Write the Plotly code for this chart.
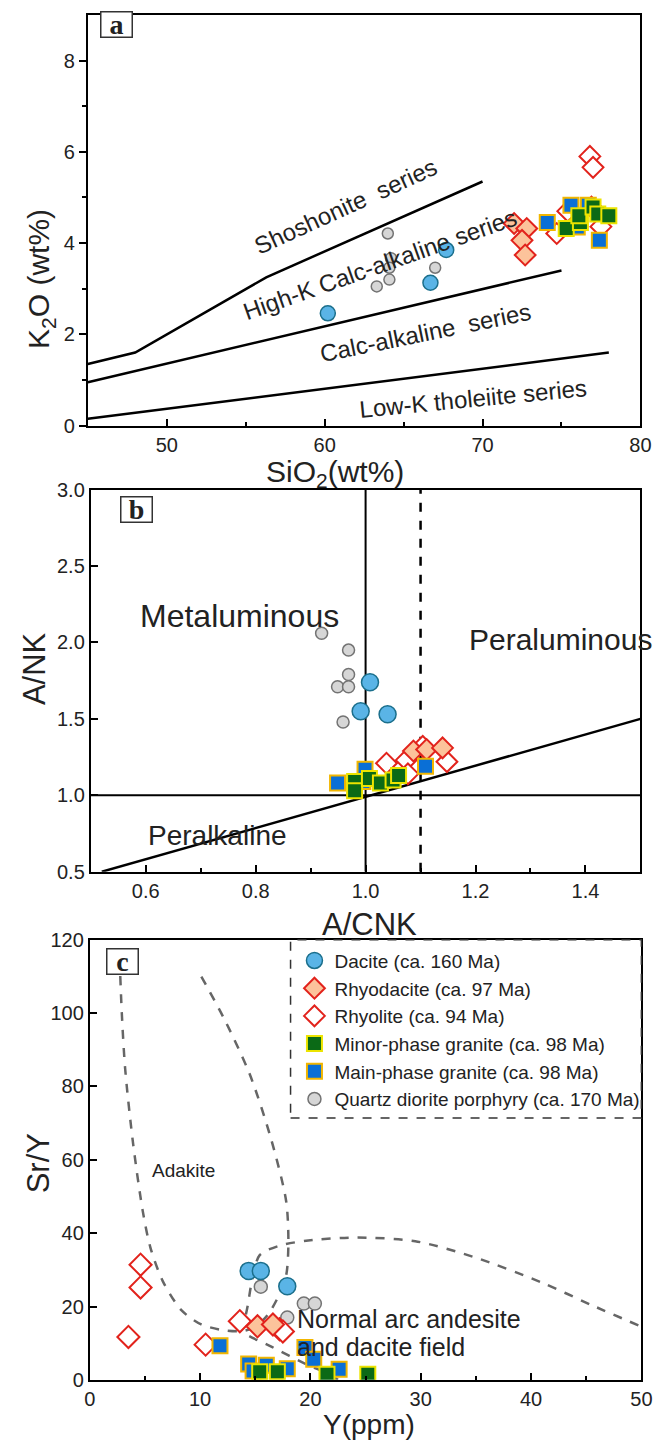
import plotly.graph_objects as go

W, H = 667, 1447
FONT = "Liberation Sans, Arial, sans-serif"
SERIF = "Liberation Serif, Times New Roman, serif"

def px(x):
    return x / W

def py(y):
    return 1 - y / H

# ---------------- Panel a: K2O vs SiO2 ----------------
a_dacite_x = [60.2, 66.7, 67.7]
a_dacite_y = [2.46, 3.13, 3.85]
a_qdp_x = [64.0, 64.2, 64.1, 64.1, 63.3, 67.0]
a_qdp_y = [4.21, 3.67, 3.46, 3.20, 3.05, 3.46]
a_rhyodacite_x = [72.0, 72.8, 72.5, 72.7]
a_rhyodacite_y = [4.43, 4.32, 4.06, 3.74]
a_rhyolite_x = [76.8, 77.0, 74.7, 75.4, 77.5, 76.9]
a_rhyolite_y = [5.90, 5.66, 4.21, 4.70, 4.36, 4.79]
a_main_x = [75.6, 74.1, 76.7, 77.4, 76.0]
a_main_y = [4.83, 4.45, 4.83, 4.06, 4.35]
a_minor_x = [75.3, 76.2, 76.1, 77.0, 77.3, 78.0]
a_minor_y = [4.32, 4.45, 4.60, 4.79, 4.64, 4.60]

a_sho_x = [45, 48, 56.3, 70]
a_sho_y = [1.35, 1.6, 3.25, 5.35]
a_hk_x = [45, 75]
a_hk_y = [0.95, 3.4]
a_ca_x = [45, 78]
a_ca_y = [0.15, 1.6]

# ---------------- Panel b: A/NK vs A/CNK ----------------
b_qdp_x = [0.920, 0.969, 0.969, 0.949, 0.969, 0.959]
b_qdp_y = [2.06, 1.95, 1.79, 1.71, 1.71, 1.48]
b_dacite_x = [1.008, 0.991, 1.040]
b_dacite_y = [1.74, 1.55, 1.53]
b_rhyodacite_x = [1.087, 1.111, 1.140]
b_rhyodacite_y = [1.29, 1.30, 1.31]
b_rhyolite_x = [1.038, 1.074, 1.104, 1.148, 1.077]
b_rhyolite_y = [1.21, 1.23, 1.32, 1.22, 1.14]
b_main_x = [0.949, 0.999, 1.109, 0.995]
b_main_y = [1.08, 1.17, 1.19, 1.09]
b_minor_x = [0.980, 0.980, 1.007, 1.027, 1.050, 1.060]
b_minor_y = [1.09, 1.03, 1.11, 1.08, 1.10, 1.13]

b_diag_x = [0.52, 1.5]
b_diag_y = [0.5, 1.5]

# ---------------- Panel c: Sr/Y vs Y ----------------
c_dacite_x = [14.4, 15.5, 17.9]
c_dacite_y = [29.7, 29.7, 25.5]
c_qdp_x = [15.5, 17.9, 19.4, 20.4]
c_qdp_y = [25.4, 17.0, 20.8, 20.8]
c_rhyodacite_x = [15.2, 16.6]
c_rhyodacite_y = [14.6, 15.1]
c_rhyolite_x = [4.6, 4.6, 3.5, 10.5, 13.6, 17.2, 17.5]
c_rhyolite_y = [31.4, 25.2, 11.7, 9.6, 16.0, 13.8, 13.2]
c_main_x = [11.8, 14.4, 14.8, 16.0, 17.9, 19.5, 20.3, 22.6]
c_main_y = [9.3, 4.3, 2.4, 4.0, 3.0, 8.8, 5.6, 2.9]
c_minor_x = [15.4, 17.0, 21.5, 25.2]
c_minor_y = [2.2, 2.2, 1.5, 1.5]

c_adakite_x = [2.7, 2.9, 3.2, 3.9, 4.8, 5.5, 6.6, 8.3, 10.1, 12.4, 13.8, 14.9, 16.1, 17.1, 17.8, 18.0, 17.8, 16.4, 14.5, 12.3, 10.1]
c_adakite_y = [115, 100, 85, 65, 46, 36, 27, 19, 15.1, 13.4, 13.3, 14.3, 17.6, 22.8, 28.5, 37.2, 48.7, 66, 83.3, 97.7, 110]
c_arc_x = [22.5, 21.3, 19.8, 16.5, 13.7, 14.0, 14.3, 14.7, 15.4, 17.1, 19.8, 24.2, 29.5, 34.8, 41.0, 45.4, 50.0]
c_arc_y = [0.0, 2.1, 4.0, 9.0, 13.6, 16.0, 20.0, 27.0, 34.0, 36.5, 38.0, 38.8, 37.8, 33.5, 26.5, 20.5, 14.5]

# ---------------- Layout (pixels) ----------------
A_L, A_R, A_T, A_B = 84, 651, 4, 421
B_L, B_R, B_T, B_B = 87, 651, 486, 874
C_L, C_R, C_T, C_B = 86, 652, 943, 1390

# ---------------- Styles ----------------
STY = {
    "dacite": dict(name="Dacite (ca. 160 Ma)", symbol="circle", color="#5ab4e6", line="#1b6f8c", lw=1.5, rank=1),
    "rhyodacite": dict(name="Rhyodacite (ca. 97 Ma)", symbol="diamond", color="#fcc39b", line="#e2231c", lw=2, rank=2),
    "rhyolite": dict(name="Rhyolite (ca. 94 Ma)", symbol="diamond", color="white", line="#e2231c", lw=2, rank=3),
    "minor": dict(name="Minor-phase granite (ca. 98 Ma)", symbol="square", color="#0b6a16", line="#ece400", lw=2, rank=4),
    "main": dict(name="Main-phase granite (ca. 98 Ma)", symbol="square", color="#0a6fd6", line="#f2b600", lw=2, rank=5),
    "qdp": dict(name="Quartz diorite porphyry (ca. 170 Ma)", symbol="circle", color="#d6d6d6", line="#737373", lw=1.5, rank=6),
}
SIZES = {
    "a": dict(dacite=15, qdp=11, rhyodacite=16, rhyolite=16, main=15, minor=15),
    "b": dict(dacite=17, qdp=12, rhyodacite=16, rhyolite=16, main=15, minor=15),
    "c": dict(dacite=17, qdp=13, rhyodacite=17, rhyolite=17, main=15, minor=15),
}
PANEL_DATA = {
    "a": dict(qdp=(a_qdp_x, a_qdp_y), dacite=(a_dacite_x, a_dacite_y), rhyolite=(a_rhyolite_x, a_rhyolite_y),
              rhyodacite=(a_rhyodacite_x, a_rhyodacite_y), main=(a_main_x, a_main_y), minor=(a_minor_x, a_minor_y)),
    "b": dict(qdp=(b_qdp_x, b_qdp_y), dacite=(b_dacite_x, b_dacite_y), rhyolite=(b_rhyolite_x, b_rhyolite_y),
              rhyodacite=(b_rhyodacite_x, b_rhyodacite_y), main=(b_main_x, b_main_y), minor=(b_minor_x, b_minor_y)),
    "c": dict(qdp=(c_qdp_x, c_qdp_y), dacite=(c_dacite_x, c_dacite_y), rhyolite=(c_rhyolite_x, c_rhyolite_y),
              rhyodacite=(c_rhyodacite_x, c_rhyodacite_y), main=(c_main_x, c_main_y), minor=(c_minor_x, c_minor_y)),
}
AXES = {"a": ("x", "y"), "b": ("x2", "y2"), "c": ("x3", "y3")}

fig = go.Figure()

def add_line(x, y, xa, ya, **ls):
    fig.add_trace(go.Scatter(x=x, y=y, mode="lines", line=ls, xaxis=xa, yaxis=ya,
                             showlegend=False, hoverinfo="skip"))

add_line(a_sho_x, a_sho_y, "x", "y", color="black", width=2.5)
add_line(a_hk_x, a_hk_y, "x", "y", color="black", width=2.5)
add_line(a_ca_x, a_ca_y, "x", "y", color="black", width=2.5)
add_line(b_diag_x, b_diag_y, "x2", "y2", color="black", width=2.5)
add_line([0.5, 1.5], [1.0, 1.0], "x2", "y2", color="black", width=2)
add_line([1.0, 1.0], [0.5, 3.0], "x2", "y2", color="black", width=2)
add_line([1.1, 1.1], [0.5, 3.0], "x2", "y2", color="black", width=2.5, dash="dash")
add_line(c_adakite_x, c_adakite_y, "x3", "y3", color="#666666", width=2.5, dash="dash", shape="spline", smoothing=0.8)
add_line(c_arc_x, c_arc_y, "x3", "y3", color="#666666", width=2.5, dash="dash", shape="spline", smoothing=0.8)

order = ["qdp", "dacite", "rhyolite", "rhyodacite", "main", "minor"]
for panel in ["a", "b", "c"]:
    xa, ya = AXES[panel]
    for key in order:
        s = STY[key]
        xs, ys = PANEL_DATA[panel][key]
        fig.add_trace(go.Scatter(
            x=xs, y=ys, mode="markers", name=s["name"],
            marker=dict(symbol=s["symbol"], size=SIZES[panel][key], color=s["color"],
                        line=dict(color=s["line"], width=s["lw"])),
            xaxis=xa, yaxis=ya, showlegend=(panel == "c"), legendrank=s["rank"],
        ))

tickfont = dict(family=FONT, size=20, color="#222222")
base = dict(showline=True, linecolor="black", linewidth=2, mirror=True, showgrid=False, zeroline=False,
            tickcolor="black", tickwidth=2, ticklen=7, tickfont=tickfont, fixedrange=True)
minor_in = dict(ticks="inside", ticklen=4, tickwidth=2, tickcolor="black")

fig.update_layout(
    width=W, height=H, margin=dict(l=0, r=0, t=0, b=0),
    paper_bgcolor="white", plot_bgcolor="white",
    font=dict(family=FONT, color="#222222"),
    xaxis=dict(base, domain=[px(A_L), px(A_R)], range=[45, 80], tickvals=[50, 60, 70, 80], ticks="inside",
               minor=dict(minor_in, tickvals=[55, 65, 75]), anchor="y"),
    yaxis=dict(base, domain=[py(A_B), py(A_T)], range=[0, 9], tickvals=[0, 2, 4, 6, 8], ticks="outside",
               minor=dict(tickvals=[1, 3, 5, 7], ticks="outside", ticklen=4, tickwidth=2, tickcolor="black"), anchor="x"),
    xaxis2=dict(base, domain=[px(B_L), px(B_R)], range=[0.5, 1.5], tickvals=[0.6, 0.8, 1.0, 1.2, 1.4], tickformat=".1f",
                ticks="inside", minor=dict(minor_in, tickvals=[0.7, 0.9, 1.1, 1.3]), anchor="y2"),
    yaxis2=dict(base, domain=[py(B_B), py(B_T)], range=[0.5, 3.0], tickvals=[0.5, 1.0, 1.5, 2.0, 2.5, 3.0], tickformat=".1f",
                ticks="inside", anchor="x2"),
    xaxis3=dict(base, domain=[px(C_L), px(C_R)], range=[0, 50], tickvals=[0, 10, 20, 30, 40, 50],
                ticks="inside", minor=dict(minor_in, tickvals=[5, 15, 25, 35, 45]), anchor="y3"),
    yaxis3=dict(base, domain=[py(C_B), py(C_T)], range=[0, 120], tickvals=[0, 20, 40, 60, 80, 100, 120],
                ticks="inside", anchor="x3"),
    legend=dict(x=px(296), y=py(C_T + 2), xanchor="left", yanchor="top", bgcolor="rgba(0,0,0,0)", borderwidth=0,
                font=dict(family=FONT, size=19, color="#222222"), tracegroupgap=0, itemsizing="trace"),
    showlegend=True,
)

# dashed legend frame
fig.add_shape(type="rect", xref="paper", yref="paper", x0=px(292), x1=px(C_R), y0=py(1124), y1=py(C_T),
              line=dict(color="#333333", width=1.5, dash="dash"), fillcolor="rgba(0,0,0,0)")

ann = []
def label(text, x, y, xref, yref, size, angle=0, xanchor="center", family=FONT):
    ann.append(dict(text=text, x=x, y=y, xref=xref, yref=yref, showarrow=False, textangle=angle,
                    xanchor=xanchor, yanchor="middle", font=dict(family=family, size=size, color="#222222")))

# panel a texts
label("Shoshonite  series", 61.3, 4.8, "x", "y", 24, -24.5)
label("High-K Calc-alkaline series", 63.5, 3.52, "x", "y", 24, -19.5)
label("Calc-alkaline  series", 66.4, 2.05, "x", "y", 24, -11.5)
label("Low-K tholeiite series", 69.4, 0.6, "x", "y", 24, -5.5)
# panel b texts
label("Metaluminous", 0.77, 2.17, "x2", "y2", 32)
label("Peraluminous", 1.355, 2.02, "x2", "y2", 30)
label("Peralkaline", 0.73, 0.74, "x2", "y2", 28)
# panel c texts
label("Adakite", 8.5, 57, "x3", "y3", 19)
label("Normal arc andesite", 18.6, 16.5, "x3", "y3", 25, xanchor="left")
label("and dacite field", 18.6, 9.0, "x3", "y3", 25, xanchor="left")

# axis titles
label("K<sub>2</sub>O (wt%)", px(36), py(272), "paper", "paper", 30, -90)
label("SiO<sub>2</sub>(wt%)", px(338), py(470), "paper", "paper", 30)
label("A/NK", px(30), py(668), "paper", "paper", 31, -90)
label("A/CNK", px(373), py(928), "paper", "paper", 31)
label("Sr/Y", px(33), py(1170), "paper", "paper", 31, -90)
label("Y(ppm)", px(372), py(1435), "paper", "paper", 28)

# panel letters
for letter, x0, y0 in [("a", 113, A_T + 10), ("b", 134, B_T + 20), ("c", 120, C_T + 22)]:
    ann.append(dict(text="<b>%s</b>" % letter, x=px(x0), y=py(y0), xref="paper", yref="paper", showarrow=False,
                    xanchor="center", yanchor="middle", width=30, height=24, align="center",
                    font=dict(family=SERIF, size=28, color="#222222"),
                    bordercolor="#333333", borderwidth=1.5, borderpad=0, bgcolor="white"))

fig.update_layout(annotations=ann)
fig.write_html("out.html")
